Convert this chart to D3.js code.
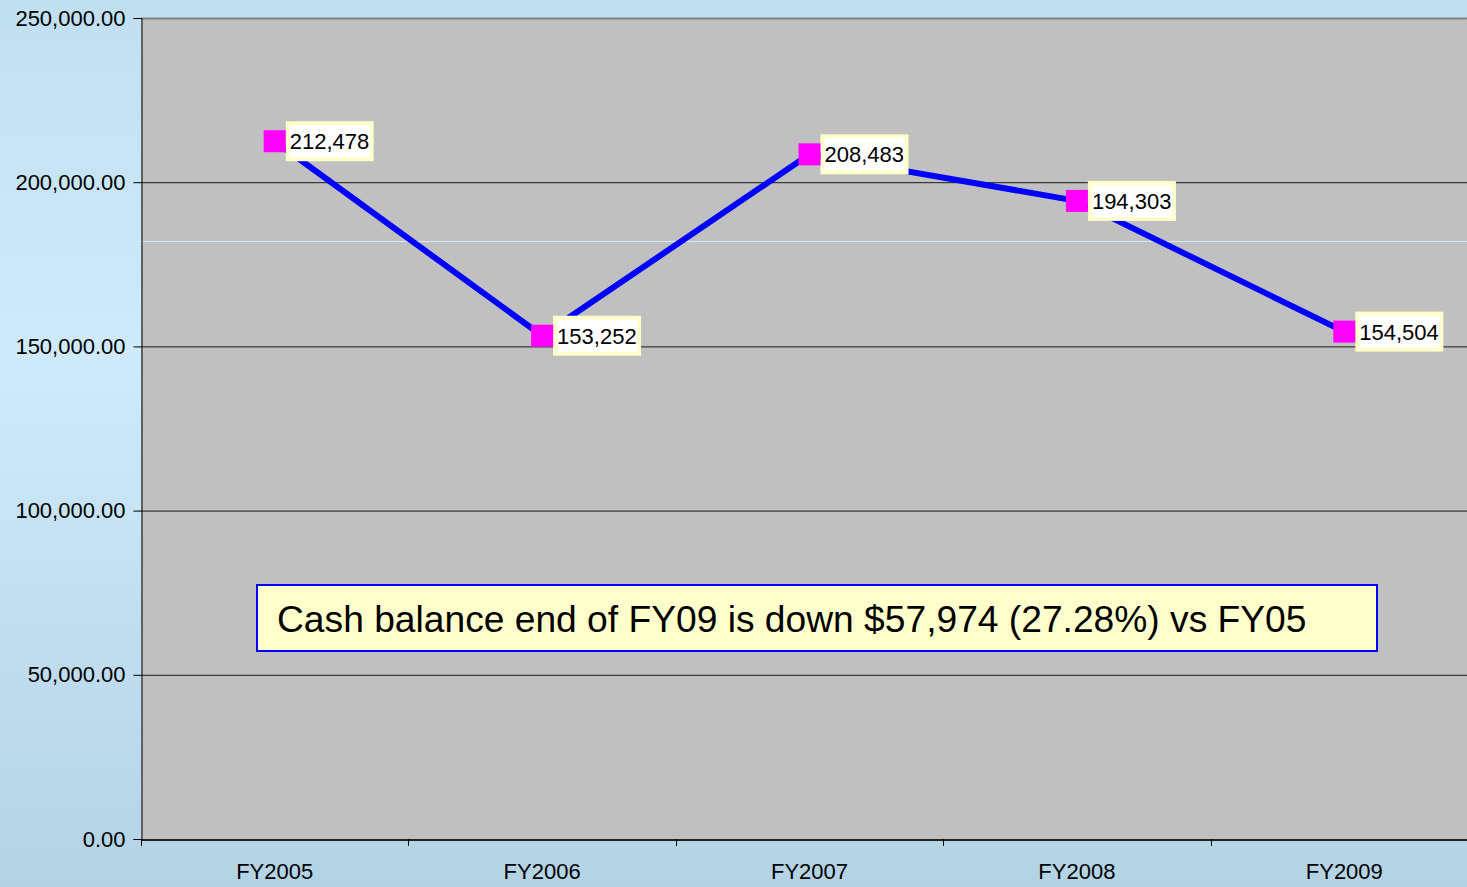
<!DOCTYPE html>
<html><head><meta charset="utf-8">
<script src="https://cdn.jsdelivr.net/npm/d3@7"></script>
<style>html,body{margin:0;padding:0;overflow:hidden;}svg{display:block;}</style>
</head><body>
<svg id="chart" width="1467" height="887"></svg>
<script>
const categories = ["FY2005","FY2006","FY2007","FY2008","FY2009"];
const cashBalance = [212478, 153252, 208483, 194303, 154504];
const yTicks = [0, 50000, 100000, 150000, 200000, 250000];
const annotationText = "Cash balance end of FY09 is down $57,974 (27.28%) vs FY05";
const refLineValue = 182100;

const FONT = "'Liberation Sans', Arial, sans-serif";
const W = 1467, H = 887;
const m = {left: 141, top: 18, bottom: 839, right: 1478};
const svg = d3.select("#chart");
const defs = svg.append("defs");
const g = defs.append("linearGradient").attr("id","bg").attr("x1",0).attr("y1",0).attr("x2",0).attr("y2",1);
g.append("stop").attr("offset","0%").attr("stop-color","#c0dff0");
g.append("stop").attr("offset","40%").attr("stop-color","#cfeafa");
g.append("stop").attr("offset","100%").attr("stop-color","#b3d3e5");
svg.append("rect").attr("width",W).attr("height",H).attr("fill","url(#bg)");

const x = d3.scaleBand().domain(categories).range([m.left, m.right]).padding(0);
const y = d3.scaleLinear().domain([0, 250000]).range([m.bottom, m.top]);

// plot area
svg.append("rect").attr("x", m.left).attr("y", m.top).attr("width", m.right - m.left).attr("height", m.bottom - m.top).attr("fill", "#c0c0c0");

// gridlines
svg.append("g").selectAll("line").data(yTicks.filter(d => d > 0)).join("line")
  .attr("x1", m.left).attr("x2", m.right)
  .attr("y1", d => y(d) + 0.5).attr("y2", d => y(d) + 0.5)
  .attr("stroke", d => d === 250000 ? "#808080" : "#1a1a1a")
  .attr("stroke-width", d => d === 250000 ? 2 : 1);

// light reference line
svg.append("line").attr("x1", m.left).attr("x2", m.right)
  .attr("y1", Math.round(y(refLineValue)) + 0.5).attr("y2", Math.round(y(refLineValue)) + 0.5)
  .attr("stroke", "#d4ecf8").attr("stroke-width", 1);

// y axis
const yAxis = d3.axisLeft(y).tickValues(yTicks).tickFormat(d3.format(",.2f")).tickSize(8).tickPadding(8);
const ya = svg.append("g").attr("transform", `translate(${m.left + 0.5},0)`).call(yAxis);
ya.select(".domain").attr("stroke", "#000");
ya.selectAll(".tick line").attr("stroke", "#000");
ya.selectAll("text").attr("font-family", FONT).attr("font-size", 22).attr("fill", "#000");

// x axis
const xAxis = d3.axisBottom(x).tickSize(0).tickPadding(24);
const xa = svg.append("g").attr("transform", `translate(0,${m.bottom + 0.5})`).call(xAxis);
xa.select(".domain").attr("stroke", "#222").attr("stroke-width", 2);
xa.selectAll("text").attr("font-family", FONT).attr("font-size", 22).attr("fill", "#000");
svg.append("g").selectAll("line").data(categories).join("line")
  .attr("x1", d => Math.round(x(d)) + 0.5).attr("x2", d => Math.round(x(d)) + 0.5)
  .attr("y1", m.bottom).attr("y2", m.bottom + 7).attr("stroke", "#000");

// annotation
const ann = svg.append("g");
ann.append("rect").attr("x", 257).attr("y", 585).attr("width", 1120).attr("height", 66)
  .attr("fill", "#ffffcc").attr("stroke", "#0000ff").attr("stroke-width", 2);
ann.append("text").attr("x", 277).attr("y", 632).text(annotationText)
  .attr("font-family", FONT).attr("font-size", 37.2).attr("fill", "#000");

// line
const cx = (d,i) => x(categories[i]) + x.bandwidth()/2;
const line = d3.line().x((d,i) => cx(d,i)).y(d => y(d));
svg.append("path").datum(cashBalance).attr("d", line).attr("fill", "none")
  .attr("stroke", "#0000ff").attr("stroke-width", 6).attr("stroke-linejoin", "round");

// labels
const lab = svg.append("g").selectAll("g").data(cashBalance).join("g")
  .attr("transform", (d,i) => `translate(${cx(d,i)},${y(d)})`);
lab.append("rect").attr("x", 13).attr("y", -18).attr("width", 84).attr("height", 36)
  .attr("fill", "#ffffff").attr("stroke", "#ffffcc").attr("stroke-width", 4);
lab.append("text").attr("x", 15).attr("y", 8).text(d => d3.format(",")(d))
  .attr("font-family", FONT).attr("font-size", 22).attr("fill", "#000");
lab.append("rect").attr("x", -11).attr("y", -11).attr("width", 22).attr("height", 22).attr("fill", "#ff00ff");
</script>
</body></html>
